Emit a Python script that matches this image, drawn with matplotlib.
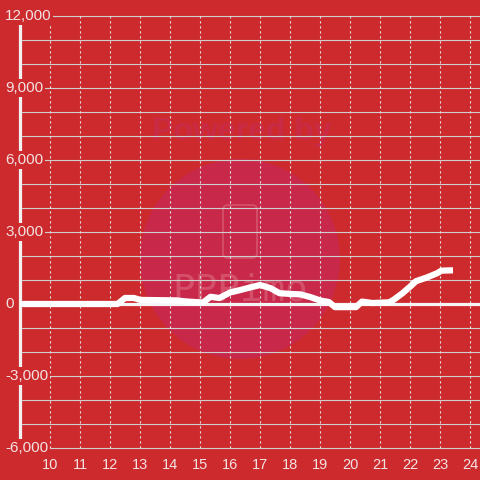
import matplotlib
matplotlib.use('Agg')
import matplotlib.pyplot as plt
from matplotlib.patches import Ellipse, FancyBboxPatch
from matplotlib.transforms import IdentityTransform

# data
hours = [9.0, 12.25, 12.5, 12.8, 13.0, 14.2, 14.6, 15.1, 15.35, 15.65, 16.0, 16.4,
         16.7, 17.0, 17.35, 17.65, 18.0, 18.35, 18.7, 19.0, 19.3, 19.5, 20.2, 20.4,
         20.75, 21.3, 21.45, 21.75, 22.0, 22.2, 22.55, 22.9, 23.05, 23.33]
values = [0, 0, 250, 250, 170, 150, 100, 60, 300, 250, 480, 600,
          700, 790, 660, 450, 420, 400, 280, 150, 80, -130, -130, 100,
          40, 70, 170, 450, 720, 950, 1100, 1280, 1390, 1400]

x_ticks = list(range(10, 25))
y_grid = list(range(-6000, 12001, 1000))
y_labels = [12000, 9000, 6000, 3000, 0, -3000, -6000]

bg = '#cd2a2e'
txt = '#f3e2e2'
plt.rcParams['font.family'] = ['Liberation Sans', 'DejaVu Sans']

fig = plt.figure(figsize=(4.8, 4.8), dpi=100)
fig.patch.set_facecolor(bg)
ax = fig.add_axes([20/480, 1-448/480, 460/480, 432/480])
ax.set_facecolor(bg)
ax.set_xlim(9, 9 + 460/30)
ax.set_ylim(-6000, 12000)

# watermark
ax.add_patch(Ellipse((16.33, 1875), 200/30, 200/24*1000, color='#c8284a', zorder=0.5, lw=0))
phone = FancyBboxPatch((223, 480-258), 34, 53, boxstyle='round,pad=0,rounding_size=5',
                       fill=False, ec='#d4506a', lw=1.3, zorder=0.6,
                       transform=IdentityTransform())
ax.add_patch(phone)
ax.text(16.4, 7170, 'Powered by', ha='center', va='center', fontsize=23, fontweight='bold',
        color='#c92b45', zorder=0.6)
ax.text(16.33, 580, 'PPPimo', ha='center', va='center', fontsize=27,
        family='DejaVu Sans Mono', color='#d4506a', zorder=0.6)

# grid
for v in y_grid:
    ax.axhline(v, color='#cfcfcf', lw=0.8, zorder=1, clip_on=False)
for h in x_ticks:
    ax.axvline(h, color='#e0e0e0', lw=0.8, ls=(0, (2, 2.5)), zorder=1)

ax.axhline(0, color='#f5f5f5', lw=2.3, zorder=2)
ax.plot(hours, values, color='white', lw=4.5, zorder=3, solid_joinstyle='round')

for s in ['top', 'right', 'bottom']:
    ax.spines[s].set_visible(False)
ax.spines['left'].set_color('#f2f2f2')
ax.spines['left'].set_linewidth(2.3)

ax.set_yticks([])
ax.set_xticks(x_ticks)
ax.set_xticklabels([str(h) for h in x_ticks], color=txt, fontsize=10.5)
ax.tick_params(axis='x', length=0, pad=7)

for v in y_labels:
    ax.text(8.5, v, f'{v:,}', ha='left', va='center', fontsize=11, color=txt,
            zorder=5, clip_on=False,
            bbox=dict(boxstyle='square,pad=0.1', fc=bg, ec='none'))

fig.savefig('out.png', dpi=100, facecolor=bg)
